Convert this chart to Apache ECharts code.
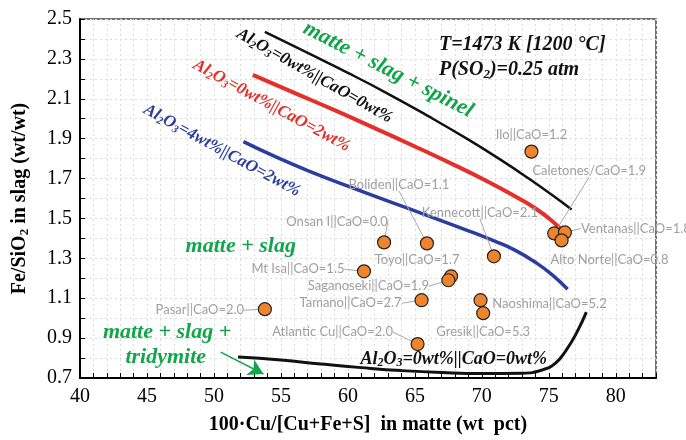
<!DOCTYPE html>
<html><head><meta charset="utf-8">
<script src="https://cdn.jsdelivr.net/npm/echarts@6/dist/echarts.min.js"></script>
<style>html,body{margin:0;padding:0;background:#fff}#c{width:686px;height:440px}</style>
</head><body><div id="c"></div>
<script>
// ---- data ----
const plantLabels = ['Ilo||CaO=1.2','Caletones/CaO=1.9','Ventanas||CaO=1.8','Alto Norte||CaO=0.8','Kennecott||CaO=2.1','Boliden||CaO=1.1','Onsan I||CaO=0.0','Toyo||CaO=1.7','Mt Isa||CaO=1.5','Saganoseki||CaO=1.9','Tamano||CaO=2.7','Naoshima||CaO=5.2','Gresik||CaO=5.3','Atlantic Cu||CaO=2.0','Pasar||CaO=2.0'];
const plantX = [73.7, 75.4, 76.2, 75.95, 70.9, 65.9, 62.7, 67.7, 61.2, 67.5, 65.5, 69.9, 70.1, 65.2, 53.8];
const plantY = [1.835, 1.425, 1.43, 1.39, 1.31, 1.375, 1.38, 1.21, 1.235, 1.19, 1.09, 1.09, 1.025, 0.87, 1.045];
const hasLeader = [false, true, true, false, true, true, true, false, true, true, true, false, false, true, true];

const curveAl0Ca0 = [[53.8,2.435],[57.0,2.33],[60.0,2.23],[63.0,2.125],[66.0,2.013],[69.0,1.895],[71.5,1.79],[73.5,1.70],[75.5,1.605],[76.7,1.545]];
const curveAl0Ca2 = [[52.9,2.22],[56.0,2.13],[59.0,2.043],[62.0,1.953],[65.0,1.861],[68.0,1.766],[70.5,1.683],[72.5,1.61],[74.0,1.55],[75.2,1.49],[76.3,1.42]];
const curveAl4Ca2 = [[52.2,1.885],[54.5,1.812],[57.0,1.74],[60.0,1.662],[63.0,1.587],[66.0,1.513],[69.0,1.438],[71.0,1.385],[72.5,1.34],[74.0,1.28],[75.3,1.215],[76.4,1.145]];
const curveTridymite = [[51.8,0.805],[55,0.79],[58,0.77],[61,0.752],[64,0.737],[67,0.727],[70,0.722],[73,0.724],[74.5,0.74],[75.5,0.775],[76.3,0.84],[77.1,0.93],[77.8,1.03]];

const xMin = 40, xMax = 83, yMin = 0.7, yMax = 2.5;

// ---- layout (label offsets in px) ----
const labelOffsets = [[0,-17],[35,-63],[71,-4],[48,19],[-14,-44],[-28,-59],[-47,-21],[-34,-16],[-66,-2],[-80,6],[-71,3],[69,4],[0,19],[-85,-12],[-65,1]];

const serif = '"Liberation Serif", "Times New Roman", serif';
const green = '#12a54a';

const chart = echarts.init(document.getElementById('c'), null, {renderer:'canvas'});

function lineSeries(data, color, width) {
  return {type:'line', data, smooth:0.5, showSymbol:false, symbol:'none', silent:true,
    lineStyle:{color, width}, z:3};
}

const option = {
  animation:false,
  backgroundColor:'#fff',
  grid:{left:80, right:30, top:19, bottom:61, show:true, borderColor:'#444', borderWidth:1.5, backgroundColor:'transparent'},
  xAxis:{type:'value', min:xMin, max:xMax, interval:1,
    axisLine:{lineStyle:{color:'#000', width:2}},
    axisTick:{inside:true, length:5, lineStyle:{color:'#000', width:1}},
    axisLabel:{color:'#000', fontFamily:serif, fontSize:20, margin:9,
      formatter:v => (Math.round(v) % 5 === 0 && Math.round(v) < 83) ? String(Math.round(v)) : ''},
    splitLine:{show:true, lineStyle:{color:'#dcdcdc', width:1, type:[2,3]}},
    name:'100·Cu/[Cu+Fe+S]  in matte (wt  pct)', nameLocation:'middle', nameGap:37,
    nameTextStyle:{fontFamily:serif, fontWeight:'bold', fontSize:20, color:'#000'}
  },
  yAxis:{type:'value', min:yMin, max:yMax, interval:0.1,
    axisLine:{lineStyle:{color:'#000', width:2}},
    axisTick:{inside:true, length:5, lineStyle:{color:'#000', width:1}},
    axisLabel:{color:'#000', fontFamily:serif, fontSize:20, margin:8,
      formatter:v => (Math.round(v*10) % 2 === 1) ? v.toFixed(1) : ''},
    splitLine:{show:true, lineStyle:{color:'#dcdcdc', width:1, type:[2,3]}},
    name:'{a|Fe/SiO}{s|2}{a| in slag (wt/wt)}', nameLocation:'middle', nameGap:49, nameRotate:90,
    nameTextStyle:{rich:{
      a:{fontFamily:serif, fontWeight:'bold', fontSize:20, color:'#000', lineHeight:22},
      s:{fontFamily:serif, fontWeight:'bold', fontSize:13, color:'#000', lineHeight:13, verticalAlign:'bottom'}
    }}
  },
  series:[
    lineSeries(curveAl0Ca0, '#111', 2.5),
    lineSeries(curveAl0Ca2, '#e3302a', 4),
    lineSeries(curveAl4Ca2, '#2b3ea0', 3.5),
    Object.assign(lineSeries(curveTridymite, '#111', 3), {
      markLine:{silent:true, symbol:['none','arrow'], symbolSize:[13,15],
        lineStyle:{color:green, width:1.5, type:'solid'}, label:{show:false},
        data:[[{coord:[50.5,0.83]},{coord:[53.7,0.72]}]]}
    }),
    {type:'scatter', z:5, symbolSize:13,
      itemStyle:{color:'#f0842c', borderColor:'#222', borderWidth:1.2, opacity:1},
      data: plantX.map((x,i)=>({value:[x, plantY[i]], name:plantLabels[i],
        labelLine:{show:hasLeader[i]}})),
      label:{show:true, position:'inside', formatter:'{b}', color:'#9f9f9f',
        fontFamily:'Lato, "Open Sans", sans-serif', fontSize:13},
      labelLine:{show:true, lineStyle:{color:'#a8a8a8', width:1}},
      labelLayout: p => ({dx:labelOffsets[p.dataIndex][0], dy:labelOffsets[p.dataIndex][1]})
    }
  ]
};
chart.setOption(option);

// ---- text annotations anchored in data coordinates ----
const annotations = [
  {at:[66.8,2.37], align:'left', rot:0, size:20, color:'#111', text:'{b|T=1473 K [1200 °C]}'},
  {at:[66.8,2.245], align:'left', rot:0, size:20, color:'#111', text:'{b|P(SO}{s|2}{b|)=0.25 atm}'},
  {at:[63.0,2.245], align:'center', rot:-27, size:22, color:green, text:'{b|matte + slag + spinel}'},
  {at:[57.5,2.215], align:'center', rot:-29.5, size:17, color:'#111', text:'{b|Al}{s|2}{b|O}{s|3}{b|=0wt%||CaO=0wt%}'},
  {at:[54.3,2.065], align:'center', rot:-28.5, size:17, color:'#e3302a', text:'{b|Al}{s|2}{b|O}{s|3}{b|=0wt%||CaO=2wt%}'},
  {at:[50.6,1.84], align:'center', rot:-28.6, size:17, color:'#2b3ea0', text:'{b|Al}{s|2}{b|O}{s|3}{b|=4wt%||CaO=2wt%}'},
  {at:[52.0,1.36], align:'center', rot:0, size:22, color:green, text:'{b|matte + slag}'},
  {at:[46.5,0.93], align:'center', rot:0, size:22, color:green, text:'{b|matte + slag +}'},
  {at:[46.4,0.805], align:'center', rot:0, size:22, color:green, text:'{b|tridymite}'},
  {at:[67.9,0.795], align:'center', rot:0, size:18, color:'#111', text:'{b|Al}{s|2}{b|O}{s|3}{b|=0wt%||CaO=0wt%}'}
];
const graphics = annotations.map(a => {
  const p = chart.convertToPixel({gridIndex:0}, a.at);
  return {type:'text', x:p[0], y:p[1], rotation:a.rot*Math.PI/180, z:10, silent:true,
    style:{text:a.text, align:a.align, verticalAlign:'middle',
      rich:{
        b:{fontFamily:serif, fontWeight:'bold', fontStyle:'italic', fontSize:a.size, fill:a.color, lineHeight:a.size+2},
        s:{fontFamily:serif, fontWeight:'bold', fontStyle:'italic', fontSize:Math.round(a.size*0.65), fill:a.color, lineHeight:Math.round(a.size*0.65), verticalAlign:'bottom'}
      }}};
});
chart.setOption({graphic:graphics});
</script>
</body></html>
